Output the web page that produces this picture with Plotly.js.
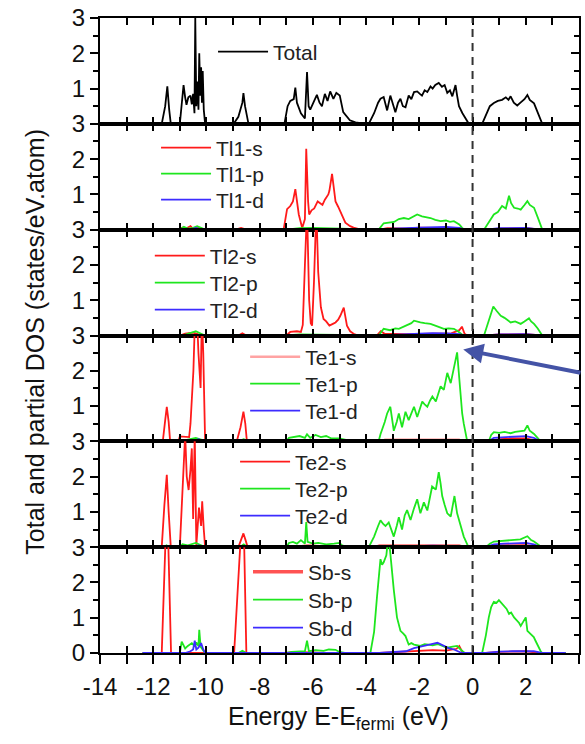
<!DOCTYPE html>
<html>
<head>
<meta charset="utf-8">
<script src="https://cdn.plot.ly/plotly-3.0.1.min.js"></script>
<style>html,body{margin:0;padding:0;background:#fff;}#chart{width:585px;height:744px;}</style>
</head>
<body>
<div id="chart"></div>
<script>
// ---------- tick labels ----------
const xTickVals = [-14,-13,-12,-11,-10,-9,-8,-7,-6,-5,-4,-3,-2,-1,0,1,2,3,4];
const xTickText = ['-14','','-12','','-10','','-8','','-6','','-4','','-2','','0','','2','','4'];
const yTickValsUpper = [1,2,3];
const yTickValsBottom = [0,1,2,3];

// ---------- panel 1 : Total ----------
const totalE = [-12.4,-11.68,-11.55,-11.47,-11.4,-11.34,-11.0,-10.92,-10.86,-10.8,-10.75,-10.68,-10.6,-10.55,-10.5,-10.45,-10.42,-10.38,-10.33,-10.3,-10.27,-10.23,-10.2,-10.17,-10.14,-10.1,-10.05,-8.98,-8.8,-8.65,-8.61,-8.55,-8.42,-7.07,-6.95,-6.85,-6.72,-6.66,-6.6,-6.45,-6.3,-6.22,-6.16,-6.1,-5.98,-5.85,-5.75,-5.66,-5.55,-5.45,-5.35,-5.23,-5.12,-4.99,-4.86,-4.72,-4.61,-4.4,-4.24,-4.0,-3.9,-3.7,-3.55,-3.46,-3.34,-3.21,-3.09,-3.0,-2.9,-2.8,-2.71,-2.62,-2.52,-2.4,-2.3,-2.2,-2.08,-1.98,-1.9,-1.8,-1.7,-1.58,-1.5,-1.4,-1.27,-1.15,-1.05,-0.95,-0.85,-0.76,-0.64,-0.58,-0.51,-0.38,-0.26,-0.14,0.36,0.5,0.65,0.8,0.95,1.11,1.25,1.35,1.43,1.55,1.68,1.8,1.95,2.06,2.15,2.31,2.45,2.62,3.5];
const totalDOS = [0,0,0.5,1.06,0.4,0,0,0.7,1.1,0.75,0.54,0.75,0.8,0.55,0.85,0.3,3.0,0.5,1.2,0.4,2.0,0.8,1.6,0.6,1.5,0.4,0,0,0.2,0.6,0.87,0.5,0,0,0.5,0.65,0.7,1.03,0.6,0.3,0.15,1.47,0.5,0.4,0.6,0.82,0.6,0.5,0.85,0.65,0.92,0.71,0.88,0.8,0.33,0.2,0.1,0.04,0.02,0,0,0.3,0.6,0.71,0.76,0.38,0.8,0.55,0.33,0.6,0.71,0.5,0.47,0.8,0.7,0.9,0.92,0.85,0.8,0.95,0.9,1.06,1.0,1.1,1.16,1.05,1.1,0.88,0.95,0.78,1.1,0.8,0.5,0.3,0.15,0,0,0.25,0.5,0.59,0.65,0.68,0.75,0.68,0.78,0.6,0.52,0.6,0.7,0.82,0.68,0.58,0.3,0,0];

// ---------- panel 2 : Tl1 ----------
const tl1sE = [-12.4,-11.0,-10.9,-10.8,-10.6,-10.5,-10.3,-10.1,-8.9,-8.7,-8.5,-7.1,-6.97,-6.85,-6.75,-6.66,-6.53,-6.4,-6.3,-6.25,-6.18,-6.14,-6.05,-5.95,-5.82,-5.75,-5.64,-5.55,-5.5,-5.42,-5.38,-5.28,-5.2,-5.15,-5.05,-4.97,-4.85,-4.78,-4.6,-4.47,-4.2,-3.5,-3.2,-2.5,-2.0,-1.5,-1.0,-0.5,-0.3,0.5,1.0,2.0,2.6,3.5];
const tl1sDOS = [0,0,0.06,0.02,0.1,0.02,0.05,0,0,0.05,0,0,0.58,0.67,0.8,1.15,0.43,0.05,0.3,2.29,0.8,0.43,0.55,0.6,0.8,0.75,0.7,0.85,0.9,1.0,1.1,1.58,1.1,0.8,0.65,0.5,0.3,0.2,0.1,0.06,0,0,0.04,0.03,0.06,0.05,0.05,0.04,0,0,0.03,0.04,0,0];
const tl1pE = [-12.4,-11.0,-10.85,-10.7,-10.5,-10.35,-10.2,-10.05,-7.0,-6.5,-6.0,-5.5,-5.0,-4.5,-3.53,-3.34,-3.1,-2.95,-2.77,-2.58,-2.4,-2.2,-2.08,-1.9,-1.75,-1.58,-1.4,-1.2,-1.0,-0.85,-0.7,-0.5,-0.39,-0.3,0.43,0.6,0.8,0.95,1.11,1.25,1.37,1.45,1.56,1.7,1.81,1.95,2.06,2.15,2.31,2.45,2.62,3.5];
const tl1pDOS = [0,0,0.08,0.03,0.05,0.1,0.05,0,0,0.04,0.05,0.04,0.03,0,0,0.18,0.2,0.22,0.3,0.33,0.3,0.38,0.43,0.38,0.36,0.33,0.28,0.24,0.26,0.22,0.24,0.15,0.05,0,0,0.2,0.43,0.5,0.67,0.6,0.96,0.75,0.62,0.6,0.57,0.7,0.81,0.7,0.62,0.35,0,0];
const tl1dE = [-12.4,-10.6,-10.4,-10.2,-3.5,-3.0,-2.0,-1.5,-1.0,-0.5,-0.3,0.5,1.0,2.0,2.6,3.5];
const tl1dDOS = [0,0,0.05,0,0,0.03,0.06,0.08,0.08,0.05,0,0,0.04,0.05,0,0];

// ---------- panel 3 : Tl2 ----------
const tl2sE = [-12.4,-11.0,-10.8,-10.5,-10.3,-10.1,-8.8,-8.65,-8.5,-7.0,-6.85,-6.6,-6.45,-6.38,-6.3,-6.22,-6.14,-6.08,-6.03,-5.96,-5.87,-5.8,-5.7,-5.6,-5.5,-5.38,-5.25,-5.15,-5.05,-4.97,-4.84,-4.78,-4.72,-4.6,-4.47,-4.3,-3.6,-3.45,-3.3,-2.5,-1.5,-0.8,-0.5,-0.4,-0.3,-0.2,0.5,1.0,2.0,2.6,3.5];
const tl2sDOS = [0,0,0.05,0.08,0.03,0,0,0.06,0,0,0.1,0.12,0.1,0.3,2.0,3.6,1.0,0.35,0.28,1.5,3.6,1.8,0.8,0.47,0.4,0.28,0.33,0.37,0.45,0.56,0.79,0.5,0.28,0.12,0.05,0,0,0.12,0.05,0.04,0.05,0.06,0.15,0.25,0.05,0,0,0.03,0.04,0,0];
const tl2pE = [-12.4,-10.9,-10.7,-10.4,-10.2,-10.05,-7.0,-6.5,-5.0,-4.5,-3.53,-3.34,-3.1,-2.9,-2.77,-2.5,-2.3,-2.2,-2.05,-1.96,-1.8,-1.58,-1.3,-1.08,-0.9,-0.7,-0.55,-0.45,-0.35,0.43,0.6,0.78,0.9,1.06,1.2,1.43,1.6,1.81,1.95,2.12,2.2,2.31,2.45,2.56,2.62,3.5];
const tl2pDOS = [0,0,0.05,0.12,0.05,0,0,0.03,0.02,0,0,0.19,0.15,0.2,0.19,0.28,0.35,0.42,0.38,0.37,0.35,0.33,0.25,0.19,0.2,0.19,0.12,0.05,0,0,0.4,0.82,0.7,0.56,0.5,0.37,0.4,0.33,0.4,0.49,0.4,0.33,0.2,0.05,0,0];
const tl2dE = [-12.4,-3.5,-3.0,-2.0,-1.5,-1.0,-0.5,-0.3,0.5,1.0,2.0,2.6,3.5];
const tl2dDOS = [0,0,0.02,0.05,0.07,0.06,0.04,0,0,0.03,0.04,0,0];

// ---------- panel 4 : Te1 ----------
const te1sE = [-12.4,-11.64,-11.55,-11.49,-11.42,-11.37,-11.3,-11.05,-11.0,-10.8,-10.65,-10.6,-10.55,-10.49,-10.43,-10.36,-10.3,-10.22,-10.17,-10.12,-10.05,-8.86,-8.72,-8.61,-8.54,-8.48,-7.0,-6.5,-6.0,-5.0,-3.5,-3.3,-2.0,-1.0,-0.5,-0.3,0.6,1.0,1.5,2.0,2.5,3.5];
const te1sDOS = [0,0,0.6,0.98,0.55,0.05,0,0,0.14,0.14,0.12,0.5,1.08,2.0,3.5,3.6,2.5,1.51,3.6,2.5,0,0,0.4,0.84,0.5,0,0,0.03,0.04,0,0,0.05,0.04,0.05,0.05,0,0,0.06,0.08,0.08,0,0];
const te1pE = [-12.4,-11.6,-11.5,-11.4,-10.9,-10.7,-10.4,-10.2,-10.0,-8.8,-8.6,-8.4,-7.0,-6.9,-6.7,-6.5,-6.3,-6.22,-6.1,-5.9,-5.7,-5.5,-5.3,-5.0,-4.8,-4.5,-3.53,-3.46,-3.3,-3.21,-3.09,-2.96,-2.85,-2.77,-2.65,-2.52,-2.4,-2.3,-2.2,-2.08,-1.98,-1.89,-1.8,-1.7,-1.6,-1.51,-1.38,-1.28,-1.2,-1.08,-1.0,-0.95,-0.82,-0.75,-0.7,-0.64,-0.58,-0.51,-0.45,-0.39,-0.33,-0.26,-0.2,0.61,0.7,0.8,1.0,1.2,1.43,1.6,1.81,1.95,2.06,2.15,2.31,2.45,2.56,3.5];
const te1pDOS = [0,0,0.04,0,0,0.05,0.1,0.05,0,0,0.06,0,0,0.1,0.12,0.15,0.1,0.2,0.1,0.18,0.12,0.15,0.08,0.08,0.05,0,0,0.2,0.55,0.79,0.98,0.3,0.55,0.79,0.4,0.84,0.6,0.8,0.98,0.69,0.95,1.13,1.05,0.98,1.15,1.27,1.13,1.4,1.56,1.46,1.75,1.94,1.65,1.95,2.08,2.3,2.52,1.85,1.3,0.79,0.5,0.2,0,0,0.18,0.26,0.24,0.27,0.23,0.27,0.29,0.3,0.45,0.3,0.21,0.1,0,0];
const te1dE = [-12.4,-10.5,-10.3,-10.1,-3.5,-3.0,-2.0,-1.0,-0.5,-0.3,0.6,0.8,1.2,1.6,2.0,2.3,2.55,3.5];
const te1dDOS = [0,0,0.06,0,0,0.03,0.04,0.05,0.04,0,0,0.1,0.12,0.12,0.15,0.1,0,0];

// ---------- panel 5 : Te2 ----------
const te2sE = [-12.4,-11.68,-11.58,-11.49,-11.42,-11.34,-11.0,-10.93,-10.89,-10.8,-10.74,-10.67,-10.6,-10.55,-10.5,-10.44,-10.38,-10.33,-10.28,-10.2,-10.16,-10.1,-10.05,-8.8,-8.7,-8.61,-8.53,-8.45,-7.0,-6.5,-6.2,-5.5,-4.5,-3.8,-3.5,-2.0,-1.0,-0.5,-0.2,0.5,1.0,1.5,2.0,2.5,3.5];
const te2sDOS = [0,0,1.2,2.05,1.0,0,0,1.0,1.91,3.2,2.0,1.62,2.2,2.8,0.8,3.2,0.05,0.6,1.12,0.6,1.3,0.5,0,0,0.2,0.39,0.2,0,0,0.03,0.05,0.03,0,0,0.05,0.05,0.06,0.05,0,0,0.05,0.06,0.06,0,0];
const te2pE = [-12.4,-11.6,-11.5,-11.4,-11.0,-10.9,-10.7,-10.4,-10.2,-10.05,-8.75,-8.6,-8.45,-7.0,-6.9,-6.75,-6.6,-6.45,-6.3,-6.25,-6.2,-6.0,-5.8,-5.5,-5.2,-5.0,-4.9,-4.7,-3.9,-3.7,-3.55,-3.46,-3.35,-3.27,-3.15,-3.05,-2.96,-2.85,-2.77,-2.65,-2.55,-2.46,-2.33,-2.2,-2.08,-1.96,-1.83,-1.7,-1.6,-1.52,-1.38,-1.27,-1.2,-1.14,-1.05,-0.95,-0.82,-0.75,-0.68,-0.58,-0.45,-0.33,-0.2,-0.14,0.5,0.65,0.8,1.2,1.56,1.8,2.06,2.2,2.31,2.5,2.6,3.5];
const te2pDOS = [0,0,0.05,0,0,0.08,0.05,0.12,0.05,0,0,0.08,0,0,0.12,0.15,0.1,0.2,0.1,0.71,0.15,0.1,0.12,0.08,0.1,0.12,0.05,0,0,0.3,0.6,0.76,0.65,0.6,0.7,0.5,0.3,0.6,0.85,0.5,0.9,1.05,0.77,1.1,1.36,0.96,1.27,1.04,1.4,1.72,1.63,2.13,1.8,1.45,1.2,0.96,0.87,1.2,1.45,0.96,0.6,0.3,0.08,0,0,0.1,0.16,0.18,0.2,0.22,0.31,0.2,0.16,0.05,0,0];
const te2dE = [-12.4,-10.5,-10.3,-10.1,-3.5,-2.5,-1.5,-0.5,-0.2,0.5,0.8,1.2,1.6,2.0,2.3,2.55,3.5];
const te2dDOS = [0,0,0.05,0,0,0.02,0.04,0.03,0,0,0.08,0.1,0.1,0.12,0.08,0,0];

// ---------- panel 6 : Sb ----------
const sbsE = [-12.4,-11.68,-11.48,-11.33,-8.96,-8.62,-8.5,-7.0,-6.7,-6.2,-5.5,-3.5,-2.5,-2.0,-1.5,-1.0,-0.6,-0.5,-0.4,-0.3,0.5,1.0,2.0,2.5,3.5];
const sbsDOS = [0,0,4.5,0,0,4.5,0,0,0.03,0.02,0,0,0.03,0.06,0.08,0.07,0.12,0.2,0.05,0,0,0.03,0.05,0,0];
const sbpE = [-12.4,-11.0,-10.93,-10.85,-10.8,-10.7,-10.6,-10.55,-10.45,-10.38,-10.3,-10.27,-10.22,-10.15,-10.05,-8.8,-8.65,-8.5,-7.0,-6.8,-6.3,-6.22,-6.15,-5.9,-5.6,-5.4,-5.15,-5.0,-4.8,-3.84,-3.7,-3.59,-3.5,-3.46,-3.4,-3.34,-3.24,-3.18,-3.1,-3.03,-2.96,-2.84,-2.71,-2.6,-2.52,-2.4,-2.3,-2.2,-2.05,-1.96,-1.8,-1.7,-1.5,-1.3,-1.1,-0.95,-0.75,-0.58,-0.45,-0.39,-0.3,0.36,0.5,0.61,0.7,0.8,0.9,0.99,1.1,1.18,1.28,1.37,1.45,1.56,1.68,1.75,1.81,1.9,2.0,2.06,2.18,2.3,2.37,2.45,2.56,2.62,3.5];
const sbpDOS = [0,0,0.32,0.2,0.13,0.2,0.25,0.28,0.2,0.3,0.2,0.66,0.18,0.1,0,0,0.06,0,0,0.03,0.05,0.35,0.05,0.08,0.06,0.1,0.09,0.03,0,0,0.6,1.6,2.3,2.66,2.5,2.57,2.77,3.2,2.9,2.3,1.79,1.01,0.63,0.55,0.48,0.24,0.28,0.24,0.22,0.2,0.25,0.24,0.22,0.25,0.18,0.15,0.18,0.2,0.1,0.05,0,0,0.5,1.01,1.3,1.45,1.42,1.5,1.4,1.35,1.25,1.11,1.15,1.01,0.92,0.85,0.77,0.9,1.01,0.63,0.53,0.45,0.34,0.2,0.05,0,0];
const sbdE = [-12.4,-10.8,-10.6,-10.5,-10.44,-10.38,-10.3,-10.2,-10.12,-10.05,-3.5,-3.0,-2.5,-2.2,-2.0,-1.7,-1.5,-1.32,-1.2,-1.08,-0.9,-0.7,-0.5,-0.4,0.5,1.0,1.5,2.0,2.3,2.6,3.5];
const sbdDOS = [0,0,0.05,0.1,0.35,0.1,0.15,0.28,0.1,0,0,0.02,0.05,0.14,0.18,0.24,0.26,0.29,0.25,0.2,0.14,0.1,0.04,0,0,0.04,0.05,0.06,0.05,0,0];

// ---------- series names ----------
const panelNames = [
  ['Total'],
  ['Tl1-s','Tl1-p','Tl1-d'],
  ['Tl2-s','Tl2-p','Tl2-d'],
  ['Te1-s','Te1-p','Te1-d'],
  ['Te2-s','Te2-p','Te2-d'],
  ['Sb-s','Sb-p','Sb-d']
];
const panelData = [
  [[totalE,totalDOS]],
  [[tl1sE,tl1sDOS],[tl1pE,tl1pDOS],[tl1dE,tl1dDOS]],
  [[tl2sE,tl2sDOS],[tl2pE,tl2pDOS],[tl2dE,tl2dDOS]],
  [[te1sE,te1sDOS],[te1pE,te1pDOS],[te1dE,te1dDOS]],
  [[te2sE,te2sDOS],[te2pE,te2pDOS],[te2dE,te2dDOS]],
  [[sbsE,sbsDOS],[sbpE,sbpDOS],[sbdE,sbdDOS]]
];

// ---------- styling ----------
const RED = '#ff1a1a', GREEN = '#1ee61e', BLUE = '#3d2cff', BLACK = '#000000';
const compColors = [RED, GREEN, BLUE];
const FONT = 'Liberation Sans, Arial, sans-serif';

// legend key placement: left edge (paper x) per panel, item centre rows (px from top)
const legendLeft = [0.236, 0.117, 0.104, 0.303, 0.282, 0.309];
const legendRows = [[52],[148,174,200],[256,283,310],[357,384,411],[462,489,516],[572,600,628]];

const PLOT_TOP = 18, PLOT_BOT = 653;
const N = 6;
const traces = [];
const layout = {
  width: 585, height: 744,
  margin: {l: 100, r: 6, t: PLOT_TOP, b: 744 - PLOT_BOT, pad: 0},
  paper_bgcolor: '#ffffff', plot_bgcolor: '#ffffff',
  showlegend: true,
  font: {family: FONT, size: 21, color: '#111'},
  shapes: [], annotations: []
};

function sid(i){ return i === 1 ? '' : String(i); }
let legendCount = 0;

for (let p = 0; p < N; p++) {
  const i = p + 1;
  const xa = 'x' + sid(i), ya = 'y' + sid(i);
  const top = 1 - p / N, bot = 1 - (p + 1) / N;

  layout['xaxis' + sid(i)] = {
    domain: [0, 1], anchor: ya, range: [-14, 4], matches: i === 1 ? undefined : 'x',
    showline: true, linewidth: 2, linecolor: '#000', mirror: 'ticks',
    ticks: 'inside', ticklen: 7, tickwidth: 2, tickcolor: '#000',
    tickmode: 'array', tickvals: xTickVals, ticktext: xTickText,
    showticklabels: false, showgrid: false, zeroline: false
  };
  const tv = (i === N) ? yTickValsBottom : yTickValsUpper;
  layout['yaxis' + sid(i)] = {
    domain: [bot, top], anchor: xa, range: [0, 3],
    showline: true, linewidth: 2, linecolor: '#000', mirror: true,
    ticks: 'outside', ticklen: 8, tickwidth: 2, tickcolor: '#000',
    tickmode: 'array', tickvals: tv, ticktext: tv.map(String),
    tickfont: {family: FONT, size: 24, color: '#111'},
    minor: {tickmode: 'array', tickvals: [0.5, 1.5, 2.5], ticks: 'outside', ticklen: 5, tickwidth: 2, tickcolor: '#000'},
    showgrid: false, zeroline: false
  };
  // right-side inward ticks
  layout['yaxis' + (N + i)] = {
    overlaying: ya, anchor: xa, side: 'right', range: [0, 3],
    showline: false, ticks: 'inside', ticklen: 8, tickwidth: 2, tickcolor: '#000',
    tickmode: 'array', tickvals: [0, 1, 2, 3], showticklabels: false,
    minor: {tickmode: 'array', tickvals: [0.5, 1.5, 2.5], ticks: 'inside', ticklen: 5, tickwidth: 2, tickcolor: '#000'},
    showgrid: false, zeroline: false
  };
  traces.push({x: [], y: [], xaxis: xa, yaxis: 'y' + (N + i), type: 'scatter', mode: 'lines', showlegend: false, hoverinfo: 'skip'});

  const names = panelNames[p];
  const dat = panelData[p];
  for (let k = 0; k < names.length; k++) {
    legendCount++;
    const legId = 'legend' + (legendCount === 1 ? '' : legendCount);
    layout[legId] = {
      x: legendLeft[p], y: (PLOT_BOT - legendRows[p][k]) / (PLOT_BOT - PLOT_TOP),
      xanchor: 'left', yanchor: 'middle',
      bgcolor: 'rgba(0,0,0,0)', borderwidth: 0,
      font: {family: FONT, size: 21, color: '#222'},
      itemwidth: 50
    };
    const col = (p === 0) ? BLACK : compColors[k];
    const special = (names[k] === 'Te1-s' || names[k] === 'Sb-s');
    traces.push({
      x: dat[k][0], y: dat[k][1], xaxis: xa, yaxis: ya, type: 'scatter', mode: 'lines',
      name: names[k], legend: legId, showlegend: !special,
      line: {color: col, width: 1.8}, hoverinfo: 'skip', cliponaxis: true
    });
    if (special) {
      // key entry drawn paler / softer as in the original key
      traces.push({
        x: [null], y: [null], xaxis: xa, yaxis: ya, type: 'scatter', mode: 'lines',
        name: names[k], legend: legId, showlegend: true,
        line: names[k] === 'Te1-s' ? {color: '#ffa3a3', width: 2.5} : {color: 'rgba(255,40,40,0.8)', width: 3.5},
        hoverinfo: 'skip'
      });
    }
  }
}

// bottom axis carrying outward ticks + labels
layout.xaxis7 = {
  overlaying: 'x6', anchor: 'y6', side: 'bottom', range: [-14, 4],
  showline: false, ticks: 'outside', ticklen: 10, tickwidth: 2, tickcolor: '#000',
  tickmode: 'array', tickvals: xTickVals, ticktext: xTickText,
  ticklabelstandoff: 2,
  tickfont: {family: FONT, size: 24, color: '#111'},
  showgrid: false, zeroline: false
};
traces.push({x: [], y: [], xaxis: 'x7', yaxis: 'y6', type: 'scatter', mode: 'lines', showlegend: false, hoverinfo: 'skip'});

// Fermi level dashed line
layout.shapes.push({
  type: 'line', xref: 'x6', yref: 'paper', x0: 0, x1: 0, y0: 0, y1: 1,
  line: {color: '#333', width: 2, dash: '8px,6px'}, layer: 'above'
});

// Axis titles
layout.annotations.push({
  text: 'Total and partial DOS (states/eV.atom)', xref: 'paper', yref: 'paper',
  x: -0.136, y: 0.49, xanchor: 'center', yanchor: 'middle', textangle: -90, showarrow: false,
  font: {family: FONT, size: 25, color: '#111'}
});
layout.annotations.push({
  text: 'Energy E-E<sub>fermi</sub> (eV)', xref: 'paper', yref: 'paper',
  x: 0.497, y: -0.103, xanchor: 'center', yanchor: 'middle', showarrow: false,
  font: {family: FONT, size: 25, color: '#111'}
});
// Pointer arrow to the Te1-p peak
layout.annotations.push({
  text: ' ', xref: 'x4', yref: 'y4', x: -0.35, y: 2.6, ax: 140, ay: 24,
  showarrow: true, arrowhead: 2, arrowsize: 1, arrowwidth: 4, arrowcolor: '#4453a6', standoff: 0
});

Plotly.newPlot('chart', traces, layout, {staticPlot: true, displayModeBar: false});
</script>
</body>
</html>
